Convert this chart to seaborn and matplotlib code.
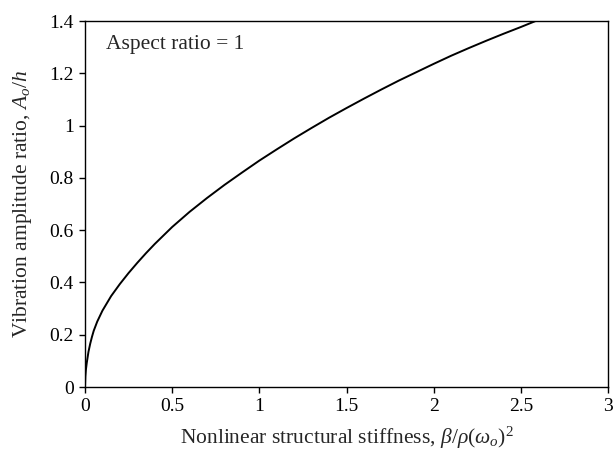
import matplotlib
matplotlib.use("Agg")
import matplotlib.pyplot as plt
import seaborn as sns
import pandas as pd

# Data
stiffness = [0, 0.002, 0.005, 0.01, 0.02, 0.03, 0.04, 0.05, 0.07, 0.1, 0.15,
             0.2, 0.25, 0.3, 0.35, 0.4, 0.5, 0.6, 0.7, 0.8, 0.9, 1.0, 1.1, 1.2,
             1.3, 1.4, 1.5, 1.6, 1.7, 1.8, 1.9, 2.0, 2.1, 2.2, 2.3, 2.4, 2.5, 2.585]
amplitude = [0, 0.04, 0.065, 0.092, 0.135, 0.166, 0.192, 0.215, 0.25, 0.292, 0.348,
             0.394, 0.436, 0.475, 0.512, 0.547, 0.612, 0.67, 0.723, 0.773, 0.82,
             0.866, 0.909, 0.951, 0.991, 1.03, 1.067, 1.103, 1.138, 1.172, 1.204,
             1.236, 1.267, 1.296, 1.324, 1.351, 1.377, 1.40]

x_ticks = [0, 0.5, 1, 1.5, 2, 2.5, 3]
x_tick_labels = ["0", "0.5", "1", "1.5", "2", "2.5", "3"]
y_ticks = [0, 0.2, 0.4, 0.6, 0.8, 1.0, 1.2, 1.4]
y_tick_labels = ["0", "0.2", "0.4", "0.6", "0.8", "1", "1.2", "1.4"]

sns.set_style("ticks")
plt.rcParams["font.family"] = ["Liberation Serif", "DejaVu Serif"]
plt.rcParams["mathtext.fontset"] = "custom"
plt.rcParams["mathtext.rm"] = "Liberation Serif"
plt.rcParams["mathtext.it"] = "Liberation Serif:italic"

df = pd.DataFrame({"x": stiffness, "y": amplitude})

fig = plt.figure(figsize=(6.13, 4.53), dpi=100)
ax = fig.add_axes([85 / 613, 66 / 453, 523 / 613, 366 / 453])
sns.lineplot(data=df, x="x", y="y", ax=ax, color="black", linewidth=1.4)

ax.set_xlim(0, 3)
ax.set_ylim(0, 1.4)
ax.set_xticks(x_ticks)
ax.set_xticklabels(x_tick_labels)
ax.set_yticks(y_ticks)
ax.set_yticklabels(y_tick_labels)
ax.tick_params(direction="out", length=4, width=1, labelsize=14, colors="black", pad=4)

for s in ax.spines.values():
    s.set_visible(True)
    s.set_linewidth(1.0)
    s.set_color("black")

ax.set_xlabel(r"Nonlinear structural stiffness, $\mathit{\beta}/\mathit{\rho}(\mathit{\omega}_o)^2$",
              fontsize=15.5, labelpad=7)
ax.set_ylabel(r"Vibration amplitude ratio, $A_o/h$", fontsize=15.5, labelpad=11)
ax.text(0.04, 0.935, "Aspect ratio = 1", transform=ax.transAxes, fontsize=15.5,
        va="center", ha="left")

fig.savefig("out.png", dpi=100)
